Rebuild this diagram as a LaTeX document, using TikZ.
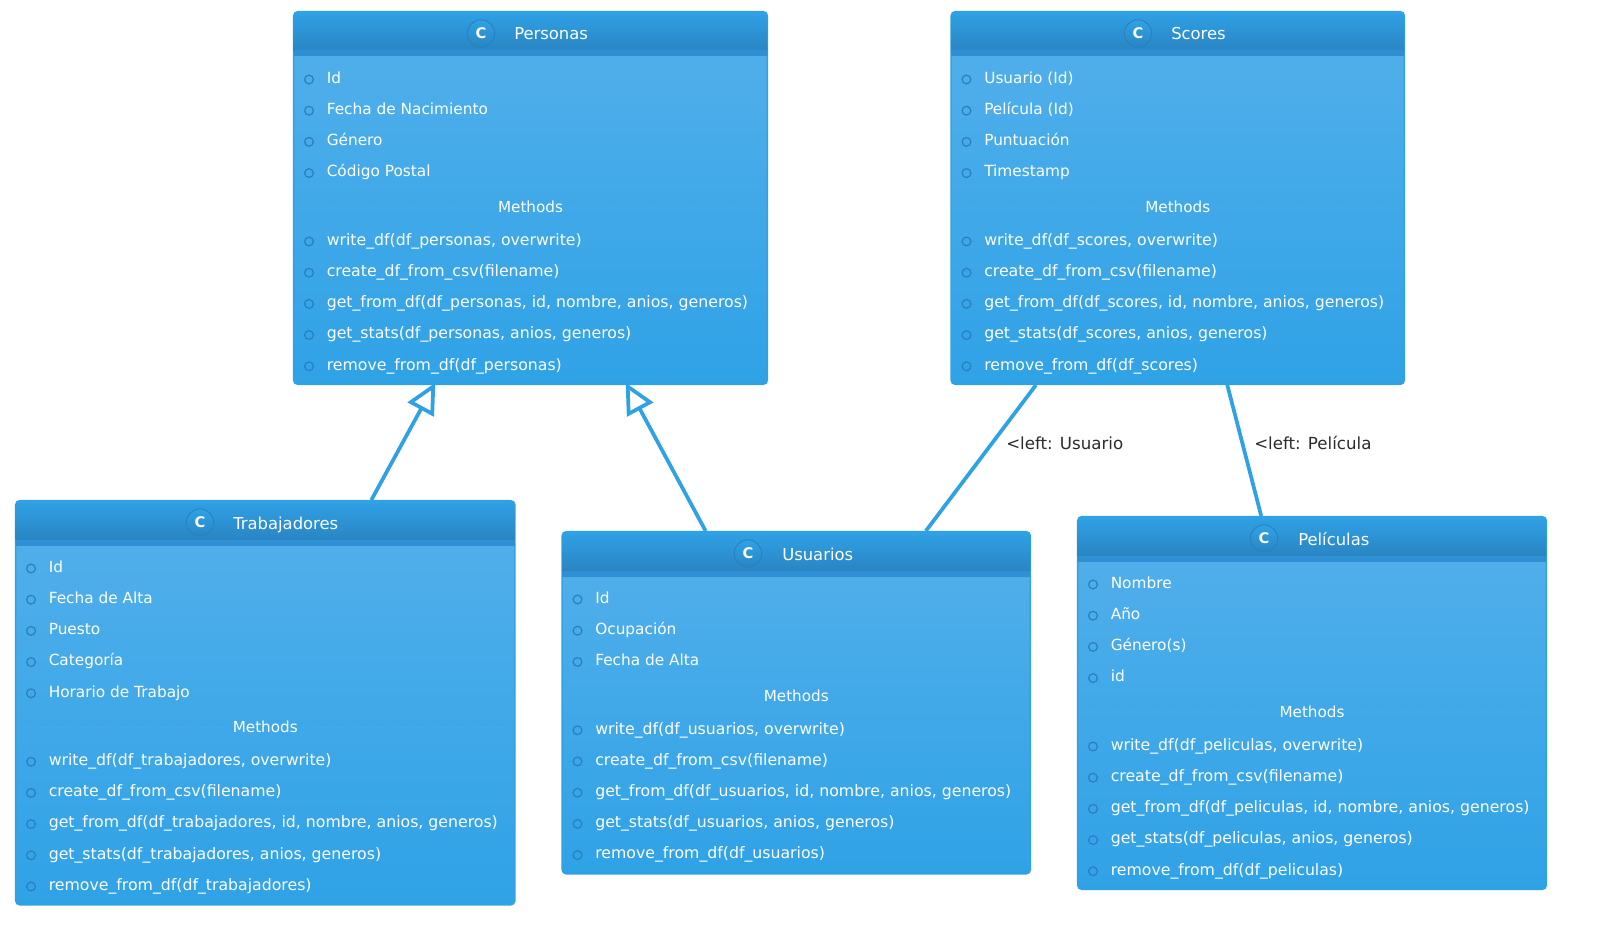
\documentclass[tikz,border=0pt]{standalone}
\usepackage{fontspec}
\setmainfont{DejaVu Sans}
\usetikzlibrary{arrows.meta,calc}
\definecolor{bluemain}{HTML}{2FA2E6}
\definecolor{bodytop}{HTML}{54B0EB}
\definecolor{headbot}{HTML}{2A85C3}
\definecolor{band}{HTML}{2E8FD5}
\definecolor{dotblue}{HTML}{2A7FBE}
\definecolor{sepblue}{HTML}{4FAEEA}
\definecolor{labelgray}{HTML}{2B2B2B}
\tikzset{
  x=0.75pt,y=-0.75pt,
  classbody/.style={rectangle,rounded corners=3pt,draw=bluemain,line width=1pt,inner sep=0pt,top color=bodytop,bottom color=bluemain},
  rowtext/.style={anchor=base west,text=white,font=\fontsize{11.5}{13}\selectfont,inner sep=0pt},
  methtext/.style={anchor=base west,text=white,font=\fontsize{11.8}{13}\selectfont,inner sep=0pt},
  methodhead/.style={anchor=base,text=white,font=\fontsize{11.4}{13}\selectfont,inner sep=0pt},
  titletext/.style={anchor=base west,text=white,font=\fontsize{12.3}{14}\selectfont,inner sep=0pt},
  cbadge/.style={circle,draw=dotblue,line width=0.6pt,top color=bluemain,bottom color=headbot,minimum size=20.5pt,inner sep=0pt,text=white,font=\bfseries\fontsize{11}{13}\selectfont},
  rowdot/.style={circle,draw=dotblue,line width=0.9pt,minimum size=6.6pt,inner sep=0pt},
  inherit/.style={draw=bluemain,line width=2.8pt,shorten >=-2pt,-{Triangle[length=23pt,width=22pt,fill=white,line width=2.8pt]}},
  assoc/.style={draw=bluemain,line width=2.8pt},
  assoclabel/.style={anchor=base west,text=labelgray,font=\fontsize{12.5}{14}\selectfont,inner sep=0pt},
}
\newcommand{\umlclass}[9]{%
  \pgfmathsetmacro{\cw}{#4-#2-1.3}%
  \pgfmathsetmacro{\ch}{#5-#3-1.3}%
  \node[classbody,minimum width=\cw*0.75pt,minimum height=\ch*0.75pt] (#1) at ({(#2+#4)/2},{(#3+#5)/2}) {};
  \begin{scope}
    \clip[rounded corners=3pt] (#2+0.65,#3+0.65) rectangle (#4-0.65,#5-0.65);
    \shade[top color=bluemain,bottom color=headbot] (#2,#3) rectangle (#4,#3+39.5);
    \fill[band] (#2,#3+39.5) rectangle (#4,#3+45.5);
  \end{scope}
  \node[cbadge] (#1-badge) at (#6,#3+22.5) {C};
  \node[titletext] (#1-title) at (#7,#3+29) {#8};
  \umlrows{#1}{#2}{#3}{#4}#9
}
\newcommand{\umlrows}[7]{%
  \foreach \t [count=\i from 0] in {#6} {
    \pgfmathsetmacro{\ry}{#3+66.5+31.2*\i}
    \node[rowdot] (#1-ad\i) at (#2+16,\ry+2) {};
    \node[rowtext] (#1-a\i) at (#2+33.5,\ry+5.8) {\t};
  }
  \pgfmathsetmacro{\my}{#3+66.5+31.2*(#5-1)+35.7}
  \pgfmathsetmacro{\mx}{(#2+#4)/2}
  \draw[sepblue,dotted,line width=0.5pt] (#2+8,\my) -- (\mx-38,\my) (\mx+38,\my) -- (#4-8,\my);
  \node[methodhead] (#1-m) at (\mx,\my+5.8) {Methods};
  \foreach \t [count=\i from 0] in {#7} {
    \pgfmathsetmacro{\ry}{\my+32.7+31.2*\i}
    \node[rowdot] (#1-md\i) at (#2+16,\ry+2) {};
    \node[methtext] (#1-f\i) at (#2+33.5,\ry+5.8) {\t};
  }
}
\begin{document}
\begin{tikzpicture}
\useasboundingbox (0,0) rectangle (1600,949);
\umlclass{pers}{293}{11}{768}{385}{481}{514}{Personas}{{4}{Id,Fecha de Nacimiento,Género,Código Postal}{{write\_df(df\_personas, overwrite)},{create\_df\_from\_csv(filename)},{get\_from\_df(df\_personas, id, nombre, anios, generos)},{get\_stats(df\_personas, anios, generos)},{remove\_from\_df(df\_personas)}}}
\umlclass{scor}{950.5}{11}{1405}{385}{1138}{1171}{Scores}{{4}{Usuario (Id),Película (Id),Puntuación,Timestamp}{{write\_df(df\_scores, overwrite)},{create\_df\_from\_csv(filename)},{get\_from\_df(df\_scores, id, nombre, anios, generos)},{get\_stats(df\_scores, anios, generos)},{remove\_from\_df(df\_scores)}}}
\umlclass{trab}{15}{500}{515.5}{905.5}{200}{233}{Trabajadores}{{5}{Id,Fecha de Alta,Puesto,Categoría,Horario de Trabajo}{{write\_df(df\_trabajadores, overwrite)},{create\_df\_from\_csv(filename)},{get\_from\_df(df\_trabajadores, id, nombre, anios, generos)},{get\_stats(df\_trabajadores, anios, generos)},{remove\_from\_df(df\_trabajadores)}}}
\umlclass{usua}{561.5}{531}{1031}{874.5}{748}{782}{Usuarios}{{3}{Id,Ocupación,Fecha de Alta}{{write\_df(df\_usuarios, overwrite)},{create\_df\_from\_csv(filename)},{get\_from\_df(df\_usuarios, id, nombre, anios, generos)},{get\_stats(df\_usuarios, anios, generos)},{remove\_from\_df(df\_usuarios)}}}
\umlclass{peli}{1077}{516}{1547}{890}{1264}{1298}{Películas}{{4}{Nombre,Año,Género(s),id}{{write\_df(df\_peliculas, overwrite)},{create\_df\_from\_csv(filename)},{get\_from\_df(df\_peliculas, id, nombre, anios, generos)},{get\_stats(df\_peliculas, anios, generos)},{remove\_from\_df(df\_peliculas)}}}
\draw[inherit] ($(trab.north west)!0.712!(trab.north east)$) -- ($(pers.south west)!0.297!(pers.south east)$);
\draw[inherit] ($(usua.north west)!0.307!(usua.north east)$) -- ($(pers.south west)!0.703!(pers.south east)$);
\draw[assoc] ($(scor.south west)!0.188!(scor.south east)$) -- ($(usua.north west)!0.776!(usua.north east)$);
\draw[assoc] ($(scor.south west)!0.609!(scor.south east)$) -- ($(peli.north west)!0.392!(peli.north east)$);
\node[assoclabel] (l1) at (1006,449) {<left: Usuario};
\node[assoclabel] (l2) at (1254,449) {<left: Película};
\end{tikzpicture}
\end{document}
